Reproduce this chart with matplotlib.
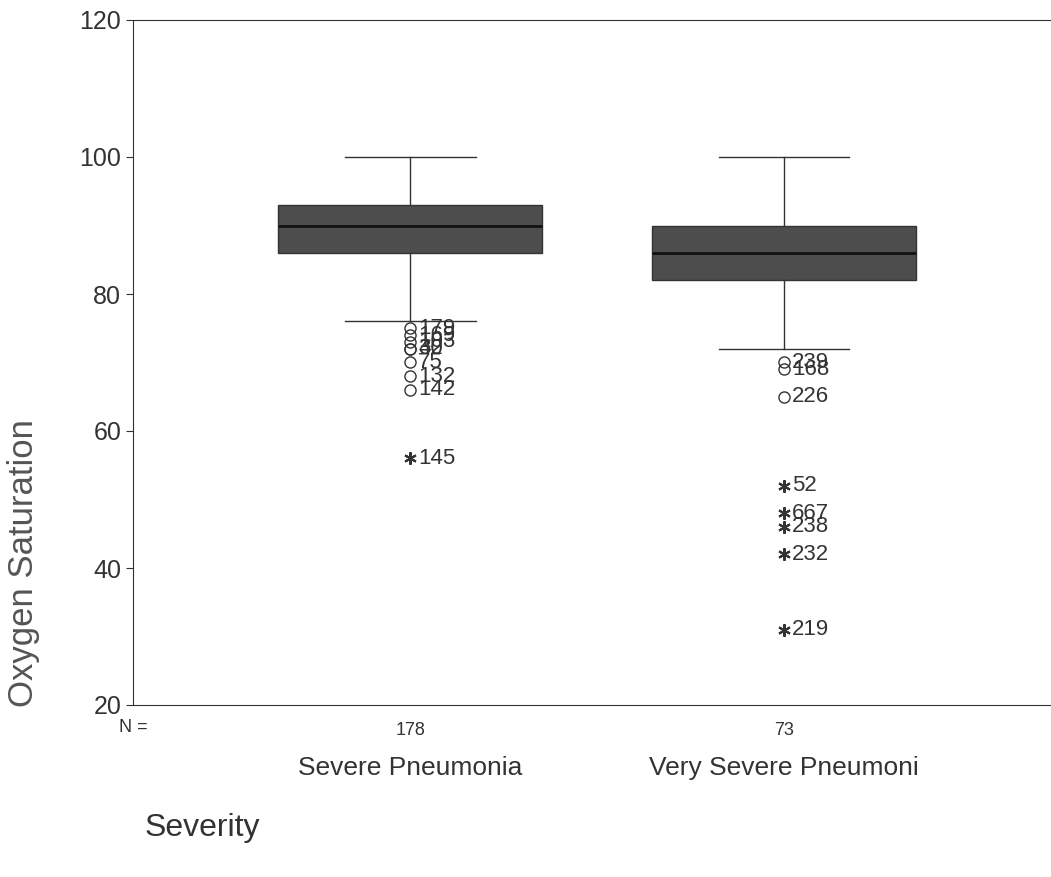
import matplotlib
matplotlib.use('Agg')
import matplotlib.pyplot as plt

plt.rcParams['font.family'] = ['Liberation Sans', 'DejaVu Sans']

# box statistics
groups = ['Severe Pneumonia', 'Very Severe Pneumoni']
counts = [178, 73]
q1 = [86, 82]
med = [90, 86]
q3 = [93, 90]
whislo = [76, 72]
whishi = [100, 100]

# outliers (circles) and extremes (stars) with case labels
out1_vals = [75, 74, 73, 72, 72, 70, 68, 66]
out1_ids = ['179', '169', '103', '30', '42', '75', '132', '142']
ext1_vals = [56]
ext1_ids = ['145']
out2_vals = [70, 69, 65]
out2_ids = ['239', '168', '226']
ext2_vals = [52, 48, 46, 42, 31]
ext2_ids = ['52', '667', '238', '232', '219']

fig = plt.figure(figsize=(10.51, 8.77), dpi=100)
ax = fig.add_axes([133 / 1051, 172 / 877, 1 - 133 / 1051 + 0.01, 685 / 877])

stats = []
for i in range(2):
    stats.append(dict(med=med[i], q1=q1[i], q3=q3[i], whislo=whislo[i],
                      whishi=whishi[i], fliers=[]))
ax.bxp(stats, positions=[1, 2], widths=0.706, patch_artist=True,
       showfliers=False,
       boxprops=dict(facecolor='#4d4d4d', edgecolor='#333333', linewidth=1),
       medianprops=dict(color='#111111', linewidth=2),
       whiskerprops=dict(color='#333333', linewidth=1),
       capprops=dict(color='#333333', linewidth=1),
       capwidths=0.35)

star = (6, 2, 0)
outliers = [(1, out1_vals, out1_ids, ext1_vals, ext1_ids),
            (2, out2_vals, out2_ids, ext2_vals, ext2_ids)]
for pos, ov, oi, ev, ei in outliers:
    ax.plot([pos] * len(ov), ov, 'o', mfc='none', mec='#333333', ms=8, mew=1)
    for v, t in zip(ov, oi):
        ax.text(pos + 0.022, v, t, fontsize=16, color='#333333', va='center')
    ax.plot([pos] * len(ev), ev, marker=star, ls='none', color='#333333',
            ms=9, mew=1.5)
    for v, t in zip(ev, ei):
        ax.text(pos + 0.022, v, t, fontsize=16, color='#333333', va='center')

ax.set_xlim(0.259, 2.714 + 0.028)
ax.set_ylim(20, 120)
ax.set_yticks([20, 40, 60, 80, 100, 120])
ax.tick_params(axis='y', labelsize=18, direction='out', length=5,
               colors='#333333', labelcolor='#333333')
ax.set_xticks([1, 2])
ax.set_xticklabels([str(c) for c in counts])
ax.tick_params(axis='x', length=0, labelsize=13, labelcolor='#333333', pad=12)
ax.spines['right'].set_visible(False)
for s in ['left', 'top', 'bottom']:
    ax.spines[s].set_color('#333333')

fig.text(133 / 1051, 1 - 727 / 877, 'N =', fontsize=13, color='#333333',
         ha='center', va='center')
for pos, g in zip([1, 2], groups):
    x_fig = ax.transData.transform((pos, 0))[0] / fig.bbox.width
    fig.text(x_fig, 1 - 768 / 877, g, fontsize=19, color='#333333',
             ha='center', va='center')
fig.text(145 / 1051, 1 - 828 / 877, 'Severity', fontsize=23, color='#333333',
         ha='left', va='center')
fig.text(24 / 1051, 1 - 563 / 877, 'Oxygen Saturation', fontsize=25,
         color='#555555', rotation=90, ha='center', va='center')

fig.savefig('out.png', dpi=100)
